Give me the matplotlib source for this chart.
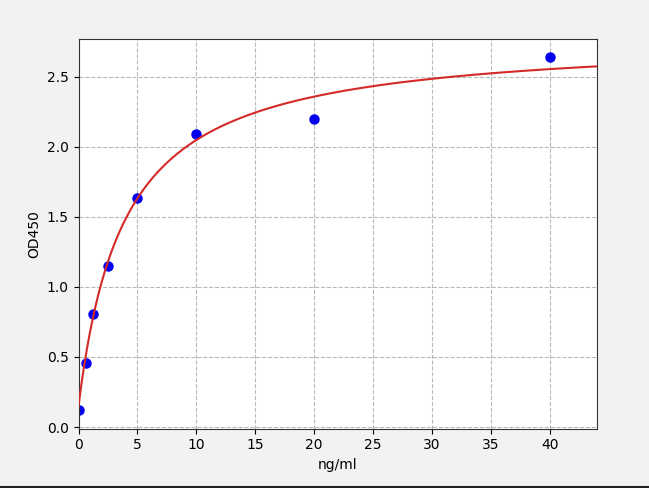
import numpy as np
import matplotlib
matplotlib.use("Agg")
import matplotlib.pyplot as plt
from matplotlib.lines import Line2D

# standard points (concentration ng/ml, OD450)
conc = [0, 0.625, 1.25, 2.5, 5, 10, 20, 40]
od = [0.12, 0.46, 0.805, 1.15, 1.637, 2.095, 2.20, 2.64]

# fitted curve parameters (hyperbolic / 4PL with b=1)
A_BOTTOM = 0.15
D_TOP = 2.79
C_MID = 3.9
B_SLOPE = 1.0

fig = plt.figure(figsize=(6.49, 4.88), dpi=100, facecolor='#f2f2f2')
ax = fig.add_axes([0.121, 0.1215, 0.799, 0.7985])
ax.set_facecolor('white')

# points first, fitted curve drawn over them
ax.plot(conc, od, 'o', color='#0000ee', ms=6.5, zorder=2)
xs = np.linspace(0, 44, 400)
ys = D_TOP + (A_BOTTOM - D_TOP) / (1 + (xs / C_MID) ** B_SLOPE)
ax.plot(xs, ys, color='#d42a2a', lw=1.5, zorder=3)

ax.set_xlim(0, 44)
ax.set_ylim(-0.012, 2.77)
ax.set_xticks(np.arange(0, 45, 5))
ax.set_yticks(np.arange(0, 2.6, 0.5))
ax.grid(True, ls='--', color='#b8b8b8', lw=0.8)
ax.set_axisbelow(True)
ax.set_xlabel('ng/ml')
ax.set_ylabel('OD450')
for sp in ax.spines.values():
    sp.set_color('#333333')

fig.add_artist(Line2D([0, 1], [0.003, 0.003], transform=fig.transFigure,
                      color='#222222', lw=1.5))

fig.savefig('out.png', dpi=100, facecolor=fig.get_facecolor())
